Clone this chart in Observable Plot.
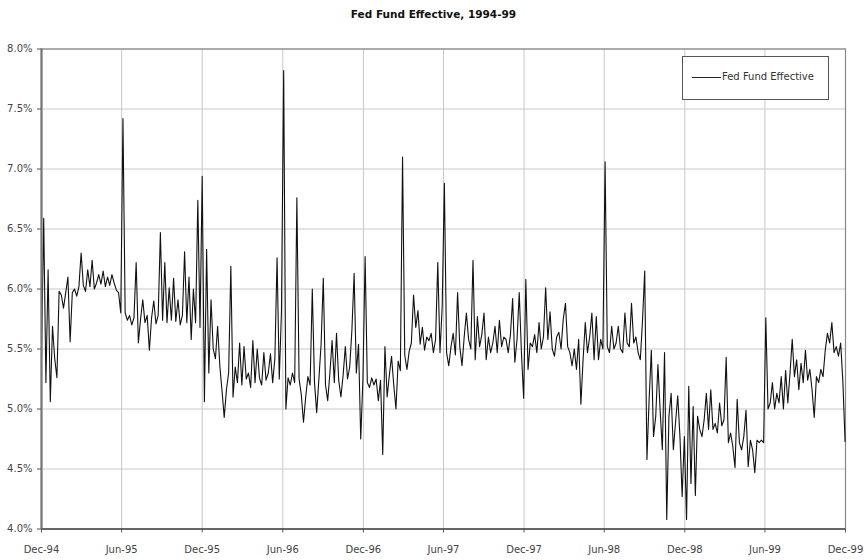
<!DOCTYPE html>
<html>
<head>
<meta charset="utf-8">
<script src="https://cdn.jsdelivr.net/npm/d3@7"></script>
<script src="https://cdn.jsdelivr.net/npm/@observablehq/plot@0.6"></script>
<style>
  body { margin: 0; background: #fff; font-family: "DejaVu Sans", sans-serif; }
  #wrap { position: relative; width: 867px; height: 560px; }
  #title { height: 28px; line-height: 28px; text-align: center; font-weight: bold; font-size: 10.5px; color: #111; }
  #legend { position: absolute; left: 682px; top: 56px; width: 145px; height: 42px; border: 1px solid #555; background: #fff; }
  #legend .swatch { position: absolute; left: 9px; top: 20px; width: 29px; height: 0; border-top: 1px solid #222; }
  #legend .label { position: absolute; left: 39px; top: 14px; font-size: 10px; color: #333; white-space: nowrap; }
</style>
</head>
<body>
<div id="wrap">
  <div id="title">Fed Fund Effective, 1994-99</div>
  <div id="chart"></div>
  <div id="legend"><div class="swatch"></div><div class="label">Fed Fund Effective</div></div>
</div>
<script>
const startDate = "1994-12-01";
const stepDays = 5;
const ratesDec94Jun95 = [5.45,6.59,5.22,6.16,5.06,5.69,5.42,5.26,5.98,5.95,5.84,5.97,6.10,5.56,5.97,6.00,5.94,6.02,6.30,6.03,5.98,6.16,6.02,6.24,6.00,6.05,6.12,6.04,6.15,6.02,6.10,6.03,6.12,6.05,5.99,5.97,5.80];
const ratesJun95Dec95 = [7.42,5.80,5.74,5.78,5.70,5.76,6.22,5.55,5.75,5.91,5.72,5.78,5.49,5.76,5.90,5.71,5.78,6.47,5.74,6.22,5.72,6.01,5.74,6.09,5.73,5.91,5.70,5.78,6.31,5.72,6.10,5.58,6.00,5.72,6.74,5.68];
const ratesDec95Jun96 = [6.94,5.06,6.33,5.30,5.91,5.50,5.42,5.69,5.36,5.15,4.93,5.16,5.30,6.19,5.10,5.35,5.22,5.55,5.20,5.52,5.25,5.30,5.18,5.57,5.22,5.50,5.26,5.20,5.47,5.24,5.30,5.46,5.22,5.42,6.26,5.25,5.81];
const ratesJun96Dec96 = [7.82,5.00,5.26,5.20,5.30,5.22,6.76,5.25,5.12,4.89,5.10,5.27,5.20,6.00,5.22,4.97,5.25,5.54,6.09,5.20,5.07,5.30,5.57,5.22,5.63,5.24,5.10,5.28,5.52,5.25,5.35,5.66,6.13,5.30,5.54,4.75,5.25];
const ratesDec96Jun97 = [6.27,5.22,5.18,5.26,5.20,5.25,5.07,5.24,4.62,5.52,5.10,5.28,5.44,5.20,5.00,5.40,5.32,7.10,5.45,5.33,5.48,5.55,5.95,5.68,5.82,5.54,5.68,5.49,5.60,5.57,5.63,5.47,5.58,6.22,5.47,5.85];
const ratesJun97Dec97 = [6.88,5.47,5.36,5.52,5.63,5.45,5.97,5.52,5.36,5.60,5.80,5.58,5.50,6.24,5.41,5.77,5.52,5.62,5.80,5.41,5.60,5.47,5.55,5.69,5.47,5.74,5.52,5.60,5.58,5.47,5.62,5.92,5.39,5.58,5.97,5.47,5.09];
const ratesDec97Jun98 = [6.08,5.33,5.55,5.52,5.62,5.47,5.72,5.50,5.60,6.01,5.58,5.81,5.50,5.44,5.60,5.64,5.50,5.75,5.88,5.52,5.47,5.36,5.50,5.33,5.58,5.04,5.41,5.72,5.47,5.60,5.80,5.41,5.77,5.41,5.58,5.50];
const ratesJun98Dec98 = [7.06,5.52,5.47,5.69,5.50,5.55,5.69,5.50,5.47,5.80,5.55,5.52,5.88,5.55,5.60,5.47,5.41,5.74,6.15,4.58,5.08,5.49,4.77,4.94,5.37,4.99,4.66,5.47,4.08,4.94,5.13,4.66,4.89,5.11,4.77,4.27,4.77];
const ratesDec98Jun99 = [4.08,5.19,4.38,5.02,4.28,4.94,4.83,4.77,4.91,5.13,4.83,5.16,4.83,4.88,4.80,5.05,4.86,4.91,5.43,4.72,4.80,4.69,4.51,5.08,4.72,4.66,4.77,4.99,4.52,4.74,4.66,4.47,4.74,4.72,4.74,4.72];
const ratesJun99Dec99 = [5.76,5.00,5.05,5.22,5.00,5.13,5.05,5.27,5.00,5.32,5.05,5.30,5.58,5.27,5.41,5.16,5.38,5.22,5.49,5.24,5.33,5.16,4.93,5.27,5.22,5.33,5.27,5.49,5.63,5.55,5.72,5.47,5.52,5.44,5.55,5.23,4.73];
const xTickLabels = ["Dec-94","Jun-95","Dec-95","Jun-96","Dec-96","Jun-97","Dec-97","Jun-98","Dec-98","Jun-99","Dec-99"];
const yTicks = [4.0,4.5,5.0,5.5,6.0,6.5,7.0,7.5,8.0];
const seriesName = "Fed Fund Effective";

const rates = [].concat(ratesDec94Jun95, ratesJun95Dec95, ratesDec95Jun96, ratesJun96Dec96,
  ratesDec96Jun97, ratesJun97Dec97, ratesDec97Jun98, ratesJun98Dec98, ratesDec98Jun99, ratesJun99Dec99);
const t0 = d3.utcParse("%Y-%m-%d")(startDate);
const data = rates.map((v, i) => ({date: d3.utcDay.offset(t0, i * stepDays), rate: v, series: seriesName}));
const parseTick = d3.utcParse("%b-%y");
const xTicks = xTickLabels.map(parseTick);
const fmt = d3.utcFormat("%b-%y");

const chart = Plot.plot({
  width: 867,
  height: 532,
  marginLeft: 41,
  marginRight: 22,
  marginTop: 20.5,
  marginBottom: 31.5,
  style: {fontFamily: "DejaVu Sans, sans-serif", fontSize: "10px", color: "#444", background: "#fff"},
  x: {type: "utc", domain: [xTicks[0], xTicks[xTicks.length - 1]]},
  y: {domain: [4, 8]},
  marks: [
    Plot.gridY(yTicks, {stroke: "#c8c8c8", strokeOpacity: 1}),
    Plot.gridX(xTicks, {stroke: "#c8c8c8", strokeOpacity: 1}),
    Plot.frame({stroke: "#888", strokeWidth: 1.2}),
    Plot.line(data, {x: "date", y: "rate", stroke: "#111", strokeWidth: 1.1}),
    Plot.ruleX([xTicks[0]], {stroke: "#777", strokeWidth: 2.2}),
    Plot.ruleY([4], {stroke: "#666", strokeWidth: 2}),
    Plot.axisY(yTicks, {tickSize: 4, tickPadding: 5, tickFormat: d => d.toFixed(1) + "%", label: null, stroke: "#555"}),
    Plot.axisX(xTicks, {tickSize: 4, tickPadding: 13, tickFormat: fmt, label: null, stroke: "#555"})
  ]
});
document.getElementById("chart").appendChild(chart);
</script>
</body>
</html>
